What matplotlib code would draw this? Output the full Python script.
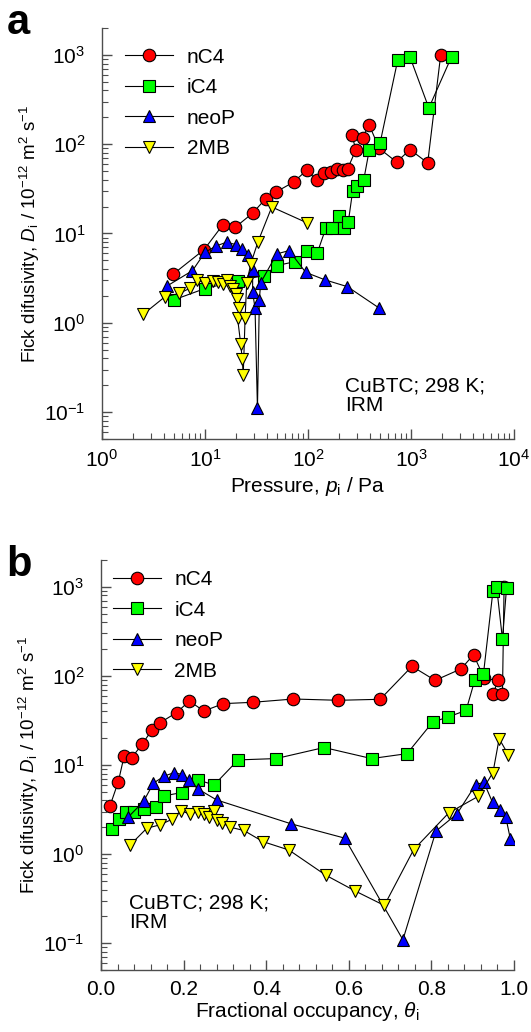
import matplotlib
matplotlib.use("Agg")
import matplotlib.pyplot as plt
from matplotlib.ticker import (LogLocator, LogFormatterMathtext, MultipleLocator,
                               NullFormatter, FormatStrFormatter)

plt.rcParams["font.family"] = ["Liberation Sans", "DejaVu Sans"]
plt.rcParams["mathtext.fontset"] = "custom"
plt.rcParams["mathtext.rm"] = "Liberation Sans"
plt.rcParams["mathtext.it"] = "Liberation Sans:italic"
plt.rcParams["mathtext.bf"] = "Liberation Sans:bold"

# ---- panel a: diffusivity vs pressure ----
p_nC4 = [4.9, 9.8, 14.9, 19.6, 29, 38.8, 48.5, 72.6, 97, 122, 143, 167, 192, 217, 243,
         292, 266, 340, 391, 492, 726, 977, 1452, 1942]
D_nC4_a = [3.5, 6.6, 12.5, 11.7, 16.9, 24.5, 29, 37.7, 51, 39.4, 47.6, 48.9, 53.3, 52, 53.3,
           87, 126, 118, 166, 89.5, 63, 87, 61.7, 1000]

p_iC4 = [5.0, 9.9, 20.9, 37.3, 49.6, 74.9, 98.6, 123, 149, 172, 200, 224, 246, 271, 298,
         347, 394, 500, 744, 974, 1490, 2480]
D_iC4_a = [1.81, 2.41, 2.97, 3.37, 4.37, 4.84, 6.36, 6.05, 11.5, 11.6, 15.5, 11.6, 13.4, 29.6, 33.7,
           39.4, 87, 102, 879, 957, 254, 957]

p_neoP = [4.25, 7.56, 10.0, 12.8, 16.2, 19.8, 22.7, 26.3, 29.0, 29.0, 30.6, 32.3, 33.7, 34.7,
          49.7, 65.4, 95, 147, 241, 492]
D_neoP_a = [2.57, 3.84, 6.16, 7.24, 7.99, 7.52, 6.73, 5.8, 3.94, 2.19, 1.46, 0.11, 1.8, 2.81,
            5.9, 6.44, 3.67, 3.02, 2.54, 1.46]

p_2MB = [2.52, 4.09, 5.6, 7.1, 8.4, 10.0, 11.9, 13.5, 14.9, 16.2, 17.5, 18.8, 20.0, 20.6, 21.5,
         20.7, 22.2, 23.0, 23.5, 24.5, 25.4, 27.8, 32.7, 44.5, 98.7]
D_2MB_a = [1.25, 1.96, 2.13, 2.43, 3.0, 2.81, 2.96, 2.85, 2.74, 3.0, 2.6, 2.39, 2.1, 1.85, 1.46,
           1.13, 0.585, 0.39, 0.26, 1.13, 2.77, 4.57, 8.1, 19.8, 13.1]

# ---- panel b: diffusivity vs fractional occupancy ----
theta_nC4 = [0.022, 0.042, 0.056, 0.074, 0.100, 0.123, 0.143, 0.183, 0.214, 0.249, 0.296, 0.367,
             0.466, 0.575, 0.676, 0.753, 0.809, 0.872, 0.902, 0.928, 0.961, 0.950, 0.972, 0.976]
D_nC4_b = [3.5, 6.5, 12.6, 12.0, 17.2, 24.6, 29.8, 38.7, 52.2, 40.3, 48.8, 50.5,
           55.0, 53.2, 54.6, 128, 89, 120, 173, 93.5, 89, 63.4, 62.3, 1000]

theta_iC4 = [0.026, 0.044, 0.060, 0.079, 0.105, 0.132, 0.153, 0.195, 0.234, 0.274, 0.332, 0.424,
             0.540, 0.655, 0.741, 0.803, 0.840, 0.884, 0.905, 0.926, 0.949, 0.958, 0.972, 0.982]
D_iC4_b = [1.92, 2.47, 3.0, 3.0, 3.2, 3.37, 4.5, 4.9, 6.8, 5.97, 11.4, 11.8,
           15.7, 11.8, 13.4, 30.3, 34.5, 41, 89.5, 105, 895, 993, 259, 977]

theta_neoP = [0.066, 0.103, 0.127, 0.153, 0.177, 0.197, 0.213, 0.234, 0.280, 0.461, 0.590, 0.731,
              0.811, 0.862, 0.907, 0.927, 0.948, 0.965, 0.980, 0.991]
D_neoP_b = [2.6, 3.9, 6.25, 7.5, 8.2, 7.8, 6.8, 5.4, 4.05, 2.18, 1.51, 0.109,
            1.81, 2.83, 6.0, 6.4, 3.8, 3.14, 2.6, 1.49]

theta_2MB = [0.071, 0.111, 0.143, 0.173, 0.193, 0.216, 0.234, 0.250, 0.261, 0.274, 0.282, 0.292,
             0.313, 0.346, 0.392, 0.455, 0.544, 0.615, 0.686, 0.757, 0.842, 0.914, 0.949, 0.964, 0.986]
D_2MB_b = [1.27, 1.95, 2.13, 2.47, 3.06, 2.81, 3.0, 2.83, 2.6, 3.06, 2.42, 2.26,
           2.0, 1.84, 1.38, 1.11, 0.58, 0.386, 0.265, 1.12, 2.9, 4.46, 8.2, 19.7, 13.1]

names = ["nC4", "iC4", "neoP", "2MB"]
markers = ["o", "s", "^", "v"]
colors = ["#ff0000", "#00ff00", "#0000ff", "#ffff00"]

AX_COL = "0.3"
FS = 15
YLABEL = r"Fick difusivity, $D_\mathregular{i}$ / 10$^{-12}$ m$^{2}$ s$^{-1}$"


def style_axes(ax, ylab_x):
    for s in ("top", "right"):
        ax.spines[s].set_visible(False)
    for s in ("left", "bottom"):
        ax.spines[s].set_color(AX_COL)
        ax.spines[s].set_linewidth(1.0)
    ax.tick_params(which="both", direction="in", colors=AX_COL, labelcolor="black",
                   labelsize=FS, top=False, right=False)
    ax.tick_params(which="major", length=7, width=1.0)
    ax.tick_params(which="minor", length=4, width=0.8)
    ax.tick_params(axis="y", pad=12)
    ax.tick_params(axis="x", pad=7)
    ax.set_yscale("log")
    ax.set_ylim(0.05, 2000)
    ax.yaxis.set_major_locator(LogLocator(base=10, numticks=10))
    ax.yaxis.set_major_formatter(LogFormatterMathtext())
    ax.yaxis.set_minor_locator(LogLocator(base=10, subs=range(2, 10), numticks=20))
    ax.yaxis.set_minor_formatter(NullFormatter())
    ax.set_ylabel(YLABEL, fontsize=13.5)
    ax.yaxis.set_label_coords(ylab_x, 0.5)


def draw_series(ax, xs, ys, anchor):
    for x, y, n, m, c in zip(xs, ys, names, markers, colors):
        ax.plot(x, y, color="black", lw=0.8, marker=m, ms=9, mfc=c, mec="black",
                mew=0.8, label=n)
    ax.legend(loc="upper left", bbox_to_anchor=anchor, frameon=False, fontsize=FS,
              handlelength=2.3, handletextpad=0.65, labelspacing=0.55,
              borderaxespad=0, borderpad=0)


fig = plt.figure(figsize=(5.31, 10.32), dpi=100)

ax_a = fig.add_axes([0.1921, 0.5746, 0.7759, 0.3983])
draw_series(ax_a, [p_nC4, p_iC4, p_neoP, p_2MB], [D_nC4_a, D_iC4_a, D_neoP_a, D_2MB_a],
            (0.056, 0.952))
style_axes(ax_a, -0.145)
ax_a.set_xscale("log")
ax_a.set_xlim(1, 1e4)
ax_a.xaxis.set_major_locator(LogLocator(base=10, numticks=10))
ax_a.xaxis.set_major_formatter(LogFormatterMathtext())
ax_a.xaxis.set_minor_locator(LogLocator(base=10, subs=range(2, 10), numticks=20))
ax_a.xaxis.set_minor_formatter(NullFormatter())
ax_a.set_xlabel(r"Pressure, $p_\mathregular{i}$ / Pa", fontsize=FS, labelpad=3)
ax_a.text(0.59, 0.152, "CuBTC; 298 K;\nIRM", transform=ax_a.transAxes, fontsize=FS,
          ha="left", va="top", linespacing=1.05)

ax_b = fig.add_axes([0.1902, 0.0601, 0.7778, 0.3973])
draw_series(ax_b, [theta_nC4, theta_iC4, theta_neoP, theta_2MB],
            [D_nC4_b, D_iC4_b, D_neoP_b, D_2MB_b], (0.029, 0.975))
style_axes(ax_b, -0.145)
ax_b.set_xlim(0, 1.0)
ax_b.xaxis.set_major_locator(MultipleLocator(0.2))
ax_b.xaxis.set_minor_locator(MultipleLocator(0.04))
ax_b.xaxis.set_major_formatter(FormatStrFormatter("%.1f"))
ax_b.set_xlabel(r"Fractional occupancy, $\theta_\mathregular{i}$", fontsize=FS, labelpad=1)
ax_b.text(0.068, 0.187, "CuBTC; 298 K;\nIRM", transform=ax_b.transAxes, fontsize=FS,
          ha="left", va="top", linespacing=1.05)

fig.text(0.012, 0.997, "a", fontsize=30, fontweight="bold", ha="left", va="top")
fig.text(0.012, 0.472, "b", fontsize=30, fontweight="bold", ha="left", va="top")

fig.savefig("out.png", dpi=100)
plt.close(fig)
